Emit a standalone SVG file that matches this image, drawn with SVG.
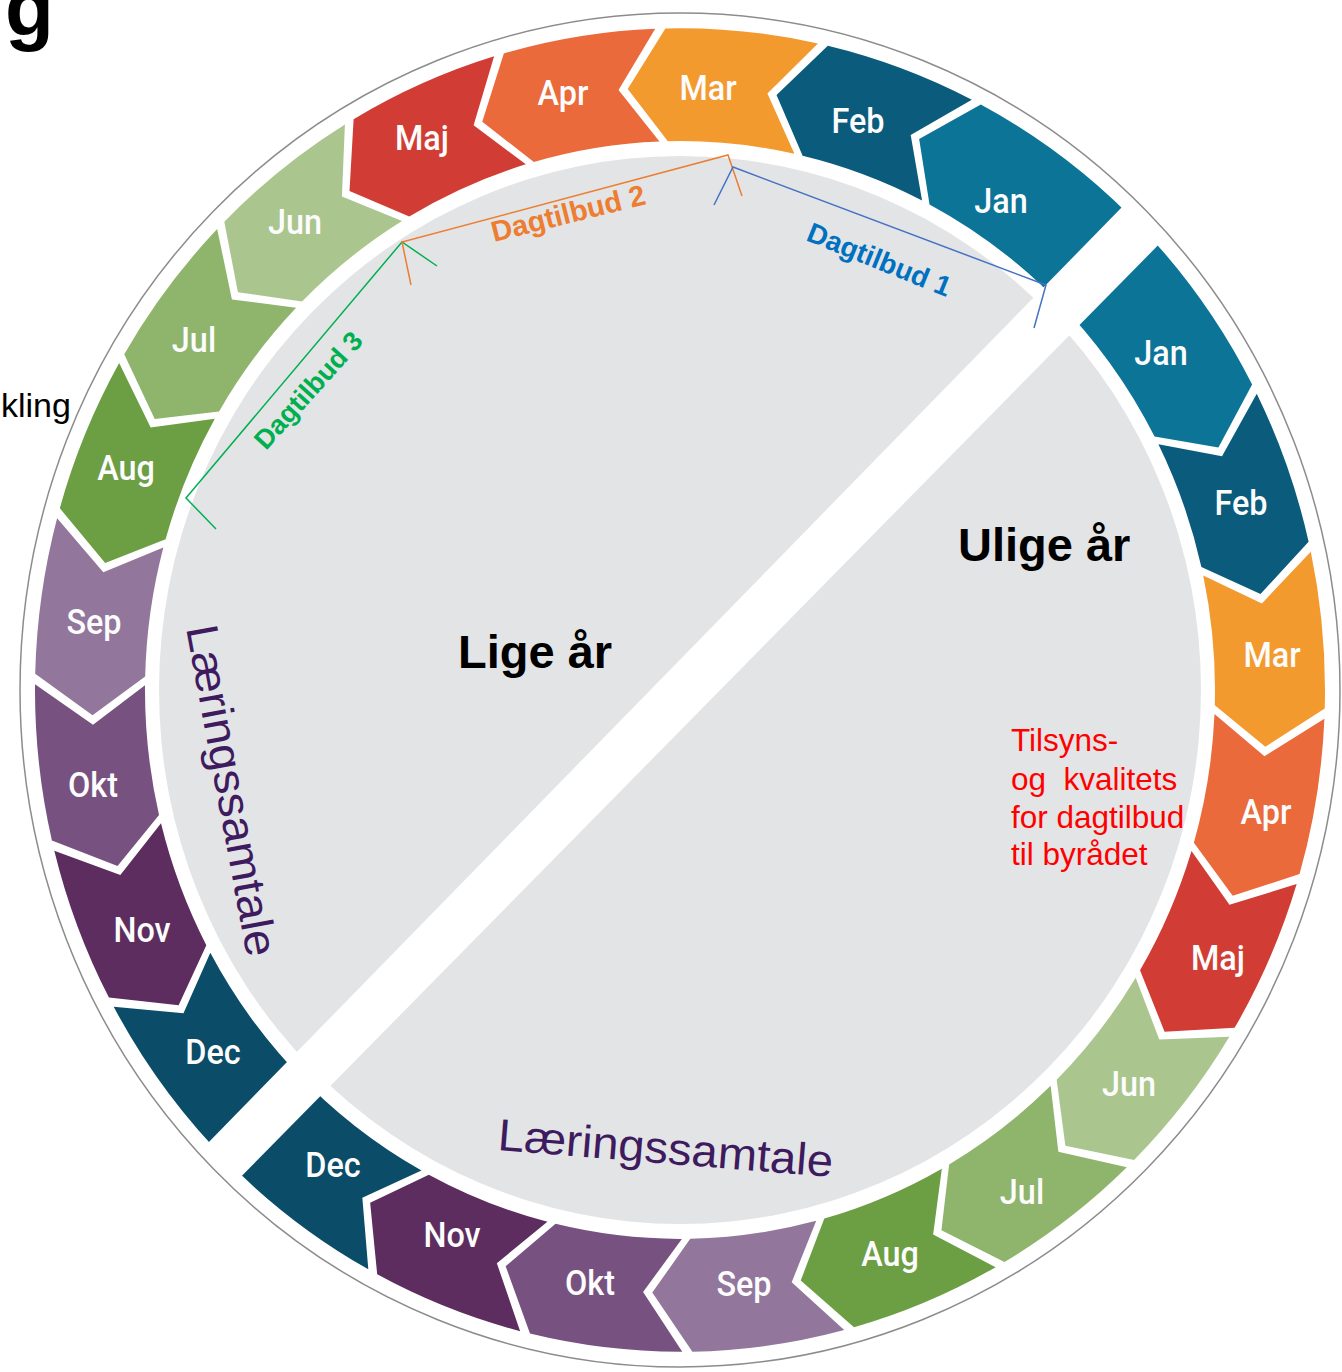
<svg xmlns="http://www.w3.org/2000/svg" xmlns:xlink="http://www.w3.org/1999/xlink" width="1342" height="1372" viewBox="0 0 1342 1372">
<style>
.m{font-family:Roboto,"Liberation Sans",sans-serif;font-size:36px;font-weight:500;fill:#fcfcfc;text-anchor:middle}
.yr{font-family:"Liberation Sans",Arial,sans-serif;font-size:47px;font-weight:bold;fill:#000}
.ls{font-family:"Liberation Sans",Arial,sans-serif;font-size:45px;fill:#3e1a5e}
.red{font-family:"Liberation Sans",Arial,sans-serif;font-size:31.5px;fill:#ff0000}
.dt{font-family:"Liberation Sans",Arial,sans-serif;font-weight:bold}
.br{fill:none;stroke-width:1.5}
.Jan{fill:#0c7497}.Feb{fill:#0a5b7c}.Mar{fill:#f39a2f}.Apr{fill:#ea6a3b}.Maj{fill:#d13d34}.Jun{fill:#aac68e}
.Jul{fill:#8fb46b}.Aug{fill:#6c9e44}.Sep{fill:#92769c}.Okt{fill:#775280}.Nov{fill:#5e2d5f}.Dec{fill:#0b4c68}
</style>
<defs>
<path id="seg" d="M626.8 152.21 A645 645 0 0 0 645 0 L586.7 -38.97 L535 0 A535 535 0 0 1 519.9 126.25 L579.3 100.59 Z"/>
<path id="segFirst" d="M613.4 199.3 A645 645 0 0 0 645 0 L586.7 -38.97 L535 0 A535 535 0 0 1 508.8 165.3 Z"/>
<path id="segLast" d="M616.8 188.6 A645 645 0 0 0 645 0 L535 0 A535 535 0 0 1 511.6 156.4 L572.5 134.3 Z"/>
</defs>
<rect width="1342" height="1372" fill="#fff"/>
<ellipse id="disc" cx="680" cy="690" rx="521" ry="534" fill="#e3e4e6"/>

<g id="lige-months">
<g id="lige-jan"><use href="#segFirst" class="Jan" transform="translate(680 690) scale(1 1.026) rotate(-62.2)"/><text class="m" transform="translate(1001 213) scale(0.9 1)">Jan</text></g>
<g id="lige-feb"><use href="#seg" class="Feb" transform="translate(680 690) scale(1 1.026) rotate(-76.75)"/><text class="m" transform="translate(858 133) scale(0.9 1)">Feb</text></g>
<g id="lige-mar"><use href="#seg" class="Mar" transform="translate(680 690) scale(1 1.026) rotate(-91.3)"/><text class="m" transform="translate(708 100) scale(0.9 1)">Mar</text></g>
<g id="lige-apr"><use href="#seg" class="Apr" transform="translate(680 690) scale(1 1.026) rotate(-105.85)"/><text class="m" transform="translate(563 105) scale(0.9 1)">Apr</text></g>
<g id="lige-maj"><use href="#seg" class="Maj" transform="translate(680 690) scale(1 1.026) rotate(-120.4)"/><text class="m" transform="translate(422 150) scale(0.9 1)">Maj</text></g>
<g id="lige-jun"><use href="#seg" class="Jun" transform="translate(680 690) scale(1 1.026) rotate(-134.95)"/><text class="m" transform="translate(295 234) scale(0.9 1)">Jun</text></g>
<g id="lige-jul"><use href="#seg" class="Jul" transform="translate(680 690) scale(1 1.026) rotate(-149.5)"/><text class="m" transform="translate(194 352) scale(0.9 1)">Jul</text></g>
<g id="lige-aug"><use href="#seg" class="Aug" transform="translate(680 690) scale(1 1.026) rotate(-164.05)"/><text class="m" transform="translate(126 480) scale(0.9 1)">Aug</text></g>
<g id="lige-sep"><use href="#seg" class="Sep" transform="translate(680 690) scale(1 1.026) rotate(-178.6)"/><text class="m" transform="translate(94 634) scale(0.9 1)">Sep</text></g>
<g id="lige-okt"><use href="#seg" class="Okt" transform="translate(680 690) scale(1 1.026) rotate(-193.15)"/><text class="m" transform="translate(93 797) scale(0.9 1)">Okt</text></g>
<g id="lige-nov"><use href="#seg" class="Nov" transform="translate(680 690) scale(1 1.026) rotate(-207.7)"/><text class="m" transform="translate(142 942) scale(0.9 1)">Nov</text></g>
<g id="lige-dec"><use href="#segLast" class="Dec" transform="translate(680 690) scale(1 1.026) rotate(-225.6)"/><text class="m" transform="translate(213 1064) scale(0.9 1)">Dec</text></g>
</g>

<g id="ulige-months">
<g id="ulige-jan"><use href="#segFirst" class="Jan" transform="translate(680 690) scale(1 1.026) rotate(-27.5) scale(1 -1)"/><text class="m" transform="translate(1161 365) scale(0.9 1)">Jan</text></g>
<g id="ulige-feb"><use href="#seg" class="Feb" transform="translate(680 690) scale(1 1.026) rotate(-12.95) scale(1 -1)"/><text class="m" transform="translate(1241 515) scale(0.9 1)">Feb</text></g>
<g id="ulige-mar"><use href="#seg" class="Mar" transform="translate(680 690) scale(1 1.026) rotate(1.6) scale(1 -1)"/><text class="m" transform="translate(1272 667) scale(0.9 1)">Mar</text></g>
<g id="ulige-apr"><use href="#seg" class="Apr" transform="translate(680 690) scale(1 1.026) rotate(16.15) scale(1 -1)"/><text class="m" transform="translate(1266 824) scale(0.9 1)">Apr</text></g>
<g id="ulige-maj"><use href="#seg" class="Maj" transform="translate(680 690) scale(1 1.026) rotate(30.7) scale(1 -1)"/><text class="m" transform="translate(1218 970) scale(0.9 1)">Maj</text></g>
<g id="ulige-jun"><use href="#seg" class="Jun" transform="translate(680 690) scale(1 1.026) rotate(45.25) scale(1 -1)"/><text class="m" transform="translate(1129 1096) scale(0.9 1)">Jun</text></g>
<g id="ulige-jul"><use href="#seg" class="Jul" transform="translate(680 690) scale(1 1.026) rotate(59.8) scale(1 -1)"/><text class="m" transform="translate(1022 1204) scale(0.9 1)">Jul</text></g>
<g id="ulige-aug"><use href="#seg" class="Aug" transform="translate(680 690) scale(1 1.026) rotate(74.35) scale(1 -1)"/><text class="m" transform="translate(890 1266) scale(0.9 1)">Aug</text></g>
<g id="ulige-sep"><use href="#seg" class="Sep" transform="translate(680 690) scale(1 1.026) rotate(88.9) scale(1 -1)"/><text class="m" transform="translate(744 1296) scale(0.9 1)">Sep</text></g>
<g id="ulige-okt"><use href="#seg" class="Okt" transform="translate(680 690) scale(1 1.026) rotate(103.45) scale(1 -1)"/><text class="m" transform="translate(590 1295) scale(0.9 1)">Okt</text></g>
<g id="ulige-nov"><use href="#seg" class="Nov" transform="translate(680 690) scale(1 1.026) rotate(118) scale(1 -1)"/><text class="m" transform="translate(452 1247) scale(0.9 1)">Nov</text></g>
<g id="ulige-dec"><use href="#segLast" class="Dec" transform="translate(680 690) scale(1 1.026) rotate(135.9) scale(1 -1)"/><text class="m" transform="translate(333 1177) scale(0.9 1)">Dec</text></g>
</g>

<polygon id="gap" points="1291,34 1329,71.6 71.4,1349 39,1316" fill="#fff"/>
<ellipse id="rim" cx="680" cy="690" rx="660" ry="677" fill="none" stroke="#8c8c8c" stroke-width="1.5"/>

<g id="lige-half"><text class="yr" x="458" y="668">Lige år</text></g>
<g id="ulige-half"><text class="yr" x="958" y="561">Ulige år</text></g>

<g id="laering-lige"><text class="ls" transform="translate(186 628) rotate(79.5)" textLength="336" lengthAdjust="spacingAndGlyphs">Læringssamtale</text></g>
<g id="laering-ulige"><text class="ls" transform="translate(497 1150) rotate(4.6)" textLength="336" lengthAdjust="spacingAndGlyphs">Læringssamtale</text></g>

<g id="tilsyn">
<text class="red" x="1011" y="751">Tilsyns-</text>
<text class="red" x="1011" y="790" xml:space="preserve">og  kvalitets</text>
<text class="red" x="1011" y="828">for dagtilbud</text>
<text class="red" x="1011" y="865">til byrådet</text>
</g>

<g id="connectors">
<polyline class="br" stroke="#00b050" points="216,529 186,498 402,242 437,266"/>
<polyline class="br" stroke="#ed7d31" points="411,285 402,242 728,155 742,196"/>
<polyline class="br" stroke="#4472c4" points="714,205 733,167 1046,285 1034,328"/>
</g>

<g id="dagtilbud-labels">
<text class="dt" font-size="28" fill="#0070c0" transform="translate(805 240) rotate(22)">Dagtilbud 1</text>
<text class="dt" font-size="29" fill="#ed7d31" transform="translate(494 242) rotate(-14)">Dagtilbud 2</text>
<text class="dt" font-size="27" fill="#00b050" transform="translate(266 451) rotate(-48)">Dagtilbud 3</text>
</g>

<g id="fragments">
<text x="5" y="35" font-family="Liberation Sans,Arial,sans-serif" font-size="80" font-weight="bold" fill="#000">g</text>
<text x="1" y="417" font-family="Liberation Sans,Arial,sans-serif" font-size="34" fill="#000">kling</text>
</g>
</svg>
